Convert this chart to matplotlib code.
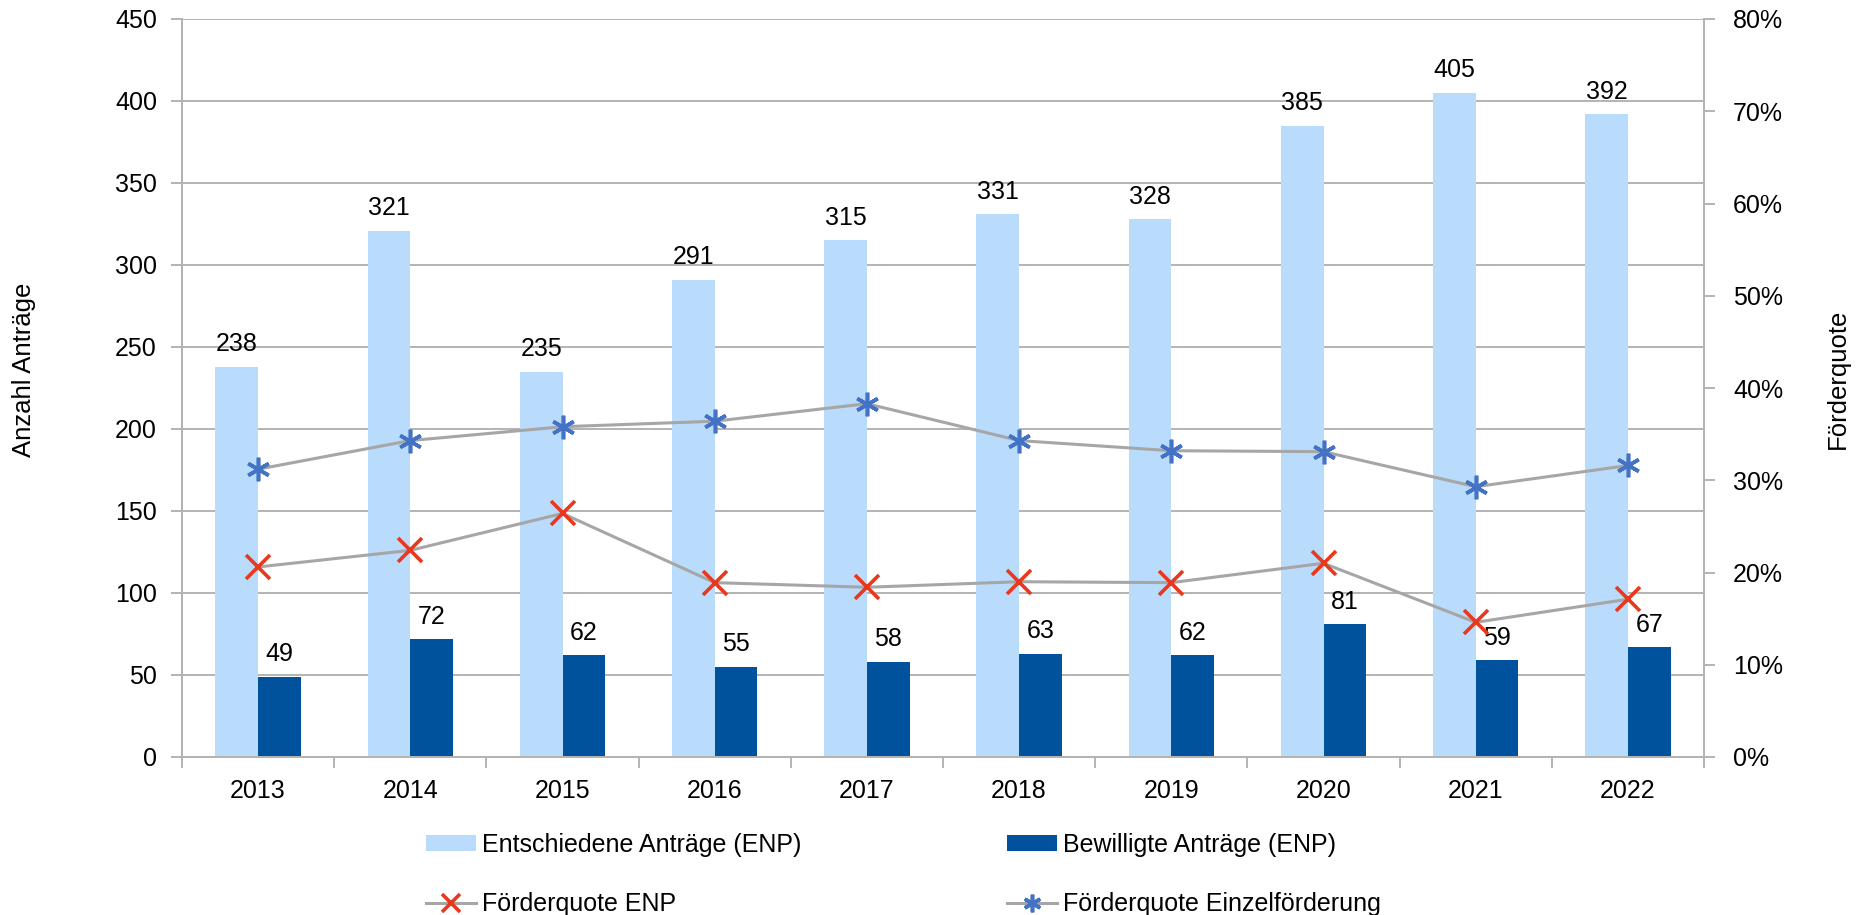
import matplotlib
matplotlib.use("Agg")
import matplotlib.pyplot as plt
import numpy as np
from matplotlib.ticker import FuncFormatter, MultipleLocator, FixedLocator

plt.rcParams['font.family'] = ['Liberation Sans', 'DejaVu Sans']

years = ['2013', '2014', '2015', '2016', '2017', '2018', '2019', '2020', '2021', '2022']
entschiedene = [238, 321, 235, 291, 315, 331, 328, 385, 405, 392]
bewilligte = [49, 72, 62, 55, 58, 63, 62, 81, 59, 67]
quote_enp = [20.6, 22.4, 26.4, 18.9, 18.4, 19.0, 18.9, 21.0, 14.6, 17.1]
quote_einzel = [31.2, 34.3, 35.8, 36.4, 38.3, 34.3, 33.2, 33.1, 29.3, 31.6]

LIGHT = '#BADCFC'
DARK = '#00529C'
RED = '#E8391F'
BLUE = '#4472C4'
LINE = '#A6A6A6'
GRID = '#B3B3B3'
FS = 18

fig = plt.figure(figsize=(18.57, 9.15), dpi=100)
fig.subplots_adjust(left=182/1857, right=1704/1857, top=1-19/915, bottom=1-757/915)
ax = fig.add_subplot(111)
ax2 = ax.twinx()

x = np.arange(len(years))
w = 0.28
b1 = ax.bar(x - w/2, entschiedene, w, color=LIGHT, zorder=2, label='Entschiedene Anträge (ENP)')
b2 = ax.bar(x + w/2, bewilligte, w, color=DARK, zorder=2, label='Bewilligte Anträge (ENP)')

for xi, v in zip(x - w/2, entschiedene):
    ax.annotate(str(v), (xi, v), xytext=(0, 7.5), textcoords='offset points',
                ha='center', va='bottom', fontsize=FS, zorder=5)
for xi, v in zip(x + w/2, bewilligte):
    ax.annotate(str(v), (xi, v), xytext=(0, 7.5), textcoords='offset points',
                ha='center', va='bottom', fontsize=FS, zorder=5)

ax.set_ylim(0, 450)
ax.set_xlim(-0.5, len(years) - 0.5)
ax.yaxis.set_major_locator(MultipleLocator(50))
ax.grid(axis='y', color=GRID, linewidth=1.4, zorder=0)
ax.set_axisbelow(True)
ax.set_xticks(x)
ax.set_xticklabels(years)
ax.xaxis.set_minor_locator(FixedLocator(np.arange(-0.5, len(years), 1.0)))
ax.tick_params(axis='x', which='major', length=0, labelsize=FS, pad=16)
ax.tick_params(axis='x', which='minor', length=8, width=1.4, color=GRID)
ax.tick_params(axis='y', length=8, width=1.4, color=GRID, labelsize=FS, pad=10)

l1, = ax2.plot(x, quote_enp, color=LINE, linewidth=2.2, marker='x', markersize=17,
               markeredgecolor=RED, markeredgewidth=2.6, zorder=4, label='Förderquote ENP')
l2, = ax2.plot(x, quote_einzel, color=LINE, linewidth=2.2, marker=(6, 2, 0), markersize=17,
               markeredgecolor=BLUE, markerfacecolor=BLUE, markeredgewidth=2.6, zorder=4,
               label='Förderquote Einzelförderung')
ax2.set_ylim(0, 80)
ax2.yaxis.set_major_locator(MultipleLocator(10))
ax2.yaxis.set_major_formatter(FuncFormatter(lambda v, p: f'{v:.0f}%'))
ax2.tick_params(axis='y', length=8, width=1.4, color=GRID, labelsize=FS, pad=13)

for a in (ax, ax2):
    a.spines['top'].set_visible(False)
    for s in ('left', 'right', 'bottom'):
        a.spines[s].set_color(GRID)
        a.spines[s].set_linewidth(1.4)

fig.text(24/1857, 1 - 370/915, 'Anzahl Anträge', rotation=90, ha='center', va='center', fontsize=18.5)
fig.text(1838/1857, 1 - 379/915, 'Förderquote', rotation=90, ha='center', va='center', fontsize=18.5)

handles = [b1, l1, b2, l2]
labels = [h.get_label() for h in handles]
fig.legend(handles, labels, ncol=2, loc='upper left', bbox_to_anchor=(426/1857, 1 - 833/915),
           frameon=False, fontsize=FS, borderpad=0, borderaxespad=0, handlelength=2.0,
           handletextpad=0.25, labelspacing=1.42, columnspacing=8.2, handleheight=0.6,
           markerscale=0.75)

fig.savefig('out.png', dpi=100)
